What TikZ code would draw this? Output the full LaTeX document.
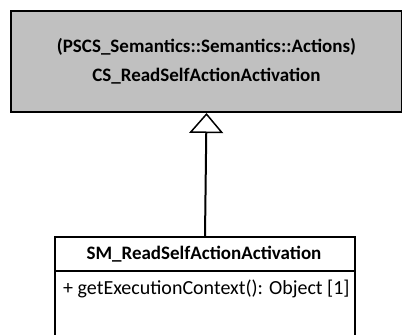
\documentclass[tikz,border=0pt]{standalone}
\usepackage{fontspec}
\setmainfont{Carlito}
\usetikzlibrary{arrows.meta}
\begin{document}
\begin{tikzpicture}[x=1pt,y=-1pt,
  box/.style={draw=black,line width=2pt,inner sep=0pt},
  gen/.style={line width=2pt,-{Triangle[open,length=20pt,width=34pt,line width=1.5pt]}}]
\useasboundingbox (0,0) rectangle (402,335);
\clip (0,0) rectangle (402,335);
\node[box,fill={rgb,255:red,192;green,192;blue,192},minimum width=391pt,minimum height=101pt,anchor=north west,
  align=center,font=\fontsize{19}{29}\selectfont\bfseries] (top) at (10,10)
  {(PSCS\_Semantics::Semantics::Actions)\\CS\_ReadSelfActionActivation};
\node[box,minimum width=300pt,minimum height=130pt,anchor=north west] (bot) at (54,236) {};
\coordinate (sepL) at (54,271);
\coordinate (sepR) at (354,271);
\draw[line width=2pt] (sepL) -- (sepR);
\node[font=\fontsize{19}{22}\selectfont\bfseries] (title) at (204,254) {SM\_ReadSelfActionActivation};
\node[font=\fontsize{20}{22}\selectfont,anchor=west,inner sep=0pt] (op) at (63,289) {+ getExecutionContext(): Object [1]};
\draw[gen] (bot.north) -- (top.south);
\end{tikzpicture}
\end{document}
